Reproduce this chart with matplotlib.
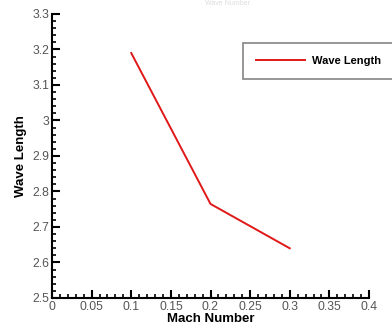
import matplotlib
matplotlib.use("Agg")
import matplotlib.pyplot as plt
from matplotlib.ticker import MultipleLocator

# data
mach = [0.1, 0.2, 0.3]
wave_length = [3.19, 2.765, 2.64]

plt.rcParams['font.family'] = ['Liberation Sans', 'DejaVu Sans']

fig = plt.figure(figsize=(3.92, 3.29), dpi=100)
ax = fig.add_axes([52/392, 1 - 298/329, (369 - 52)/392, (298 - 14)/329])

ax.plot(mach, wave_length, color='#e01818', lw=1.4, label='Wave Length')

ax.set_xlim(0, 0.4)
ax.set_ylim(2.5, 3.3)
ax.xaxis.set_major_locator(MultipleLocator(0.05))
ax.xaxis.set_minor_locator(MultipleLocator(0.01))
ax.yaxis.set_major_locator(MultipleLocator(0.1))
ax.yaxis.set_minor_locator(MultipleLocator(0.02))
ax.xaxis.set_major_formatter(plt.FuncFormatter(lambda v, p: ('%g' % round(v, 3))))
ax.yaxis.set_major_formatter(plt.FuncFormatter(lambda v, p: ('%g' % round(v, 3))))

for s in ['top', 'right']:
    ax.spines[s].set_visible(False)
for s in ['left', 'bottom']:
    ax.spines[s].set_linewidth(1.5)

ax.tick_params(which='major', direction='in', length=6, width=1.5, labelsize=8.8,
               labelcolor='#555555', pad=2)
ax.tick_params(which='minor', direction='in', length=3, width=1.2)

ax.set_xlabel('Mach Number', fontsize=9.5, fontweight='bold', labelpad=0)
ax.set_ylabel('Wave Length', fontsize=9.5, fontweight='bold', labelpad=4)

# legend box runs off the right edge in the reference
leg = ax.legend(loc='upper left', mode='expand',
                bbox_to_anchor=(243/392, 1 - 84/329, 170/392, 41/329),
                bbox_transform=fig.transFigure, fancybox=False,
                edgecolor='#666666', borderpad=1.15, handlelength=4.4,
                handletextpad=0.7, prop={'size': 8, 'weight': 'bold'},
                borderaxespad=0)
leg.get_frame().set_linewidth(1.2)

# faint title at the very top
fig.text(0.58, 1.0, 'Wave Number', ha='center', va='top', fontsize=5,
         color='#dddddd')

fig.savefig('out.png', dpi=100)
